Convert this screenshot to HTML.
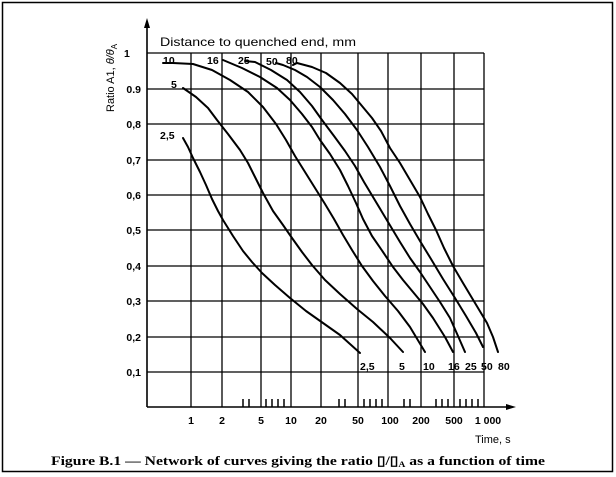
<!DOCTYPE html>
<html><head><meta charset="utf-8"><style>body{margin:0;background:#fff}svg{display:block}</style></head><body>
<svg width="616" height="477" xmlns="http://www.w3.org/2000/svg" font-family="Liberation Sans, DejaVu Sans, sans-serif">
<rect x="2.5" y="2.5" width="610" height="469" fill="none" stroke="#000" stroke-width="1.5"/>
<g stroke="#000" stroke-width="1.3" fill="none">
<line x1="147" y1="53" x2="484" y2="53"/><line x1="147" y1="89" x2="484" y2="89"/><line x1="147" y1="124" x2="484" y2="124"/><line x1="147" y1="160" x2="484" y2="160"/><line x1="147" y1="195" x2="484" y2="195"/><line x1="147" y1="230" x2="484" y2="230"/><line x1="147" y1="266" x2="484" y2="266"/><line x1="147" y1="301" x2="484" y2="301"/><line x1="147" y1="337" x2="484" y2="337"/><line x1="147" y1="372" x2="484" y2="372"/>
<line x1="191" y1="53" x2="191" y2="407"/><line x1="222" y1="53" x2="222" y2="407"/><line x1="261" y1="53" x2="261" y2="407"/><line x1="291" y1="53" x2="291" y2="407"/><line x1="321" y1="53" x2="321" y2="407"/><line x1="358" y1="53" x2="358" y2="407"/><line x1="388" y1="53" x2="388" y2="407"/><line x1="421" y1="53" x2="421" y2="407"/><line x1="454" y1="53" x2="454" y2="407"/><line x1="484" y1="53" x2="484" y2="407"/>
<line x1="147" y1="24" x2="147" y2="407" stroke-width="1.6"/><line x1="147" y1="407" x2="508" y2="407" stroke-width="1.6"/>
<path stroke-width="1.5" d="M243 399V407M249 399V407M266 399V407M272 399V407M278 399V407M284 399V407M339 399V407M345 399V407M364 399V407M370 399V407M376 399V407M382 399V407M404 399V407M410 399V407M436 399V407M442 399V407M448 399V407M460 399V407M466 399V407M472 399V407M478 399V407"/>
</g>
<path d="M147 18L144 28H150Z M516 407L506 404V410Z" fill="#000"/>
<g stroke="#000" stroke-width="2" fill="none" stroke-linejoin="round" stroke-linecap="round">
<polyline points="183,138 188,147 193,158 200,172 206,185 212,199 218,211 223,220 233,236 243,251 252,262 262,273 275,285 290,298 306,311 323,323 340,335 360,353"/>
<polyline points="183,88 196,97 208,108 217,120 228,134 240,150 248,163 255,177 263,193 273,211 283,225 292,238 302,252 312,265 325,280 340,294 357,309 373,322 390,338 403,352"/>
<polyline points="163,63 173,63 193,64 212,70 230,80 248,92 263,107 276,124 286,140 295,156 305,172 315,188 325,204 334,219 343,235 352,250 362,266 373,281 385,296 398,311 410,327 425,352"/>
<polyline points="223,60 242,68 260,77 277,88 290,100 302,114 312,127 320,140 330,154 340,170 348,186 356,203 363,219 372,236 383,252 393,267 403,280 413,292 423,304 433,318 445,337 453,352"/>
<polyline points="245,61 255,62 271,70 287,80 300,92 312,106 322,120 334,136 345,151 355,166 364,182 373,197 382,212 391,227 400,242 410,258 420,272 430,287 440,302 450,318 458,336 465,352"/>
<polyline points="276,63 283,65 295,70 307,77 320,87 333,100 345,114 357,130 368,147 380,167 390,186 400,206 410,224 420,241 431,259 443,279 455,298 466,316 476,333 483,347"/>
<polyline points="293,65 297,63 312,67 326,73 340,83 352,94 362,106 372,118 381,131 390,148 400,163 410,180 420,197 428,214 436,230 444,248 453,266 463,283 475,303 487,323 493,337 498,352"/>
</g>
<g font-size="10.5" fill="#000" font-weight="bold">
<text x="160" y="46" font-weight="normal" font-size="12" textLength="196" lengthAdjust="spacingAndGlyphs">Distance to quenched end, mm</text>
<text x="163" y="64">10</text><text x="171" y="88">5</text><text x="160" y="139">2,5</text>
<text x="207" y="64">16</text><text x="238" y="64">25</text><text x="266" y="65">50</text><text x="286" y="64">80</text>
<text x="360" y="370">2,5</text><text x="399" y="370">5</text><text x="423" y="370">10</text><text x="448" y="370">16</text><text x="465" y="370">25</text><text x="481" y="370">50</text><text x="498" y="370">80</text>
<text x="124" y="57">1</text>
<g text-anchor="end"><text x="141" y="93">0.9</text><text x="141" y="128">0,8</text><text x="141" y="164">0,7</text><text x="141" y="199">0,6</text><text x="141" y="234">0,5</text><text x="141" y="270">0,4</text><text x="141" y="305">0,3</text><text x="141" y="341">0,2</text><text x="141" y="376">0,1</text></g>
<g text-anchor="middle"><text x="191" y="424">1</text><text x="222" y="424">2</text><text x="261" y="424">5</text><text x="291" y="424">10</text><text x="321" y="424">20</text><text x="358" y="424">50</text><text x="390" y="424">100</text><text x="421" y="424">200</text><text x="454" y="424">500</text><text x="488" y="424">1 000</text></g>
<text x="475" y="443" font-weight="normal" font-size="11">Time,  s</text>
<text transform="translate(114,112) rotate(-90)" font-weight="normal" font-size="11">Ratio A1, <tspan font-style="italic">θ/θ</tspan><tspan font-size="8" dy="3">A</tspan></text>
</g>
<text x="51" y="465" font-family="Liberation Serif, serif" font-weight="bold" font-size="13" textLength="494" lengthAdjust="spacingAndGlyphs">Figure B.1 — Network of curves giving the ratio ▯/▯<tspan font-size="8" dy="2">A</tspan><tspan dy="-2"> as a function of time</tspan></text>
</svg>
</body></html>
